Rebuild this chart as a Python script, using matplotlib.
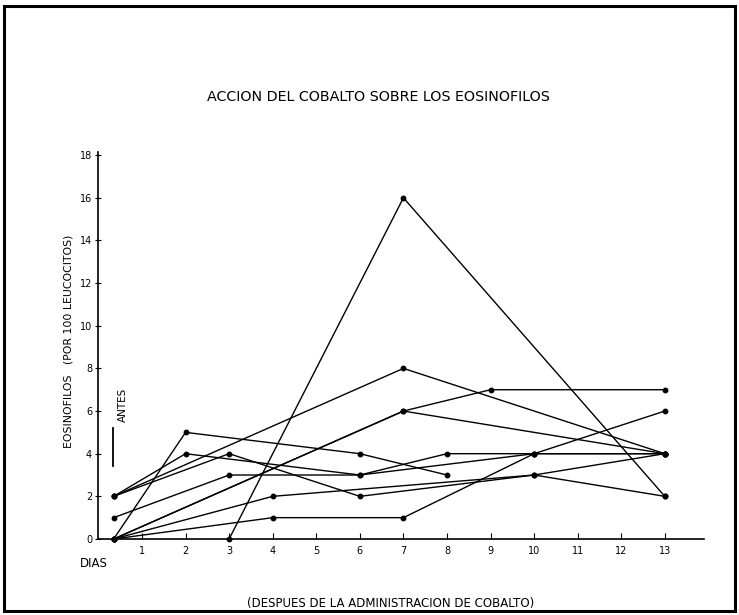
from matplotlib import pyplot as plt
from matplotlib.patches import Rectangle

# posicion de la medida "antes" (antes del dia 1)
ANTES = 0.35

# cada serie: dias y eosinofilos (por 100 leucocitos)
serie_1_dias = [3, 7, 13]
serie_1_eos = [0, 16, 2]

serie_2_dias = [ANTES, 2, 6, 8]
serie_2_eos = [0, 5, 4, 3]

serie_3_dias = [ANTES, 7, 13]
serie_3_eos = [2, 8, 4]

serie_4_dias = [ANTES, 4, 7, 10, 13]
serie_4_eos = [0, 1, 1, 4, 6]

serie_5_dias = [ANTES, 3, 6, 8, 10, 13]
serie_5_eos = [1, 3, 3, 4, 4, 4]

serie_6_dias = [ANTES, 2, 6, 10, 13]
serie_6_eos = [2, 4, 3, 4, 4]

serie_7_dias = [ANTES, 3, 6, 10, 13]
serie_7_eos = [2, 4, 2, 3, 2]

serie_8_dias = [ANTES, 4, 10, 13]
serie_8_eos = [0, 2, 3, 4]

serie_9_dias = [ANTES, 7, 9, 13]
serie_9_eos = [0, 6, 7, 7]

serie_10_dias = [ANTES, 7, 13]
serie_10_eos = [0, 6, 4]

x_ticks = list(range(1, 14))
y_ticks = list(range(0, 19, 2))


def main():
    fig = plt.figure(figsize=(7.39, 6.15), dpi=100)
    ax = fig.add_axes([0.1332, 0.1236, 0.8195, 0.6293])

    series = [
        (serie_1_dias, serie_1_eos),
        (serie_2_dias, serie_2_eos),
        (serie_3_dias, serie_3_eos),
        (serie_4_dias, serie_4_eos),
        (serie_5_dias, serie_5_eos),
        (serie_6_dias, serie_6_eos),
        (serie_7_dias, serie_7_eos),
        (serie_8_dias, serie_8_eos),
        (serie_9_dias, serie_9_eos),
        (serie_10_dias, serie_10_eos),
    ]
    for dias, eos in series:
        ax.plot(dias, eos, color="black", lw=1.0, marker="o", ms=3.2,
                clip_on=False, zorder=3)

    # marca "antes"
    ax.plot([0.335, 0.335], [3.4, 5.2], color="black", lw=1.3)
    ax.text(0.56, 6.3, "ANTES", rotation=90, ha="center", va="center",
            fontsize=7.5)

    ax.set_xlim(0, 13.9)
    ax.set_ylim(0, 18.15)
    ax.spines["top"].set_visible(False)
    ax.spines["right"].set_visible(False)
    ax.spines["left"].set_linewidth(1.2)
    ax.spines["bottom"].set_linewidth(1.2)

    ax.set_xticks(x_ticks, labels=[str(t) for t in x_ticks])
    ax.set_yticks(y_ticks, labels=[str(t) for t in y_ticks])
    ax.tick_params(axis="x", direction="in", length=4, labelsize=7, pad=5)
    ax.tick_params(axis="y", direction="inout", length=5, labelsize=7, pad=2)

    ax.set_ylabel("EOSINOFILOS   (POR 100 LEUCOCITOS)", fontsize=7.8)
    ax.yaxis.set_label_coords(-0.0404, 0.51)
    ax.text(-0.03, -0.063, "DIAS", transform=ax.transAxes, fontsize=8.5,
            ha="left", va="center")

    fig.text(0.512, 0.842, "ACCION DEL COBALTO SOBRE LOS EOSINOFILOS",
             ha="center", va="center", fontsize=10.3)
    fig.text(0.528, 0.019, "(DESPUES DE LA ADMINISTRACION DE COBALTO)",
             ha="center", va="center", fontsize=8.5)

    # marco del escaneo
    fig.add_artist(Rectangle((0.006, 0.006), 0.988, 0.985,
                             transform=fig.transFigure, fill=False,
                             lw=2.2, color="black"))

    fig.savefig("out.png", dpi=100)


if __name__ == '__main__':
    main()
